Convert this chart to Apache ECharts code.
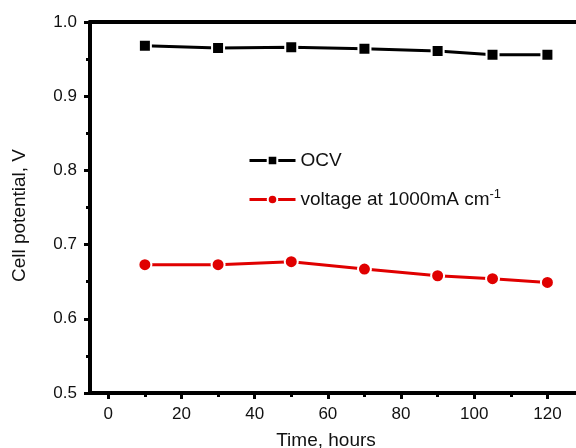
<!DOCTYPE html>
<html>
<head>
<meta charset="utf-8">
<script src="https://cdn.jsdelivr.net/npm/echarts@6/dist/echarts.min.js"></script>
<style>
  html, body { margin: 0; padding: 0; background: #fff; }
  #chart { width: 576px; height: 448px; }
</style>
</head>
<body>
<div id="chart"></div>
<script>
// hours
var times = [10, 30, 50, 70, 90, 105, 120];
var ocv = [0.968, 0.965, 0.966, 0.964, 0.961, 0.956, 0.956];
var voltage1000 = [0.673, 0.673, 0.677, 0.667, 0.658, 0.654, 0.649];

var xMajor = [0, 20, 40, 60, 80, 100, 120];
var xMinor = [10, 30, 50, 70, 90, 110];
var yMajor = [0.5, 0.6, 0.7, 0.8, 0.9, 1.0];
var yMinor = [0.55, 0.65, 0.75, 0.85, 0.95];

var chart = echarts.init(document.getElementById("chart"));
var font = "Liberation Sans";

function pairs(xs, ys) {
  return xs.map(function (x, i) { return [x, ys[i]]; });
}

var option = {
  animation: false,
  textStyle: { fontFamily: font },
  grid: { left: 90, right: -8, top: 22, bottom: 55, outerBoundsMode: "none", containLabel: false },
  legend: {
    orient: "vertical",
    left: 243,
    top: 146,
    itemWidth: 46,
    itemHeight: 12,
    itemGap: 18,
    lineStyle: { width: 3 },
    textStyle: {
      fontFamily: font,
      fontSize: 19,
      color: "#111",
      rich: { sup: { fontSize: 13, verticalAlign: "top", padding: [0, 0, 10, 0], fontFamily: font, color: "#111" } }
    },
    formatter: function (name) {
      if (name === "OCV") return name;
      return "voltage at 1000mA cm{sup|-1}";
    },
    data: ["OCV", "voltage at 1000mA cm-1"]
  },
  xAxis: [
    {
      type: "value",
      min: -5,
      max: 130,
      name: "Time, hours",
      nameLocation: "middle",
      nameGap: 38,
      nameTextStyle: { fontFamily: font, fontSize: 19, color: "#111", padding: [0, 22, 0, 0] },
      axisLine: { onZero: false, lineStyle: { color: "#000", width: 4 } },
      axisTick: { show: true, length: 6, lineStyle: { width: 3, color: "#000" }, customValues: xMajor },
      axisLabel: { fontFamily: font, fontSize: 17, color: "#111", margin: 13, customValues: xMajor },
      splitLine: { show: false }
    },
    {
      type: "value",
      min: -5,
      max: 130,
      position: "bottom",
      axisLine: { show: false, onZero: false },
      axisTick: { show: true, length: 4, lineStyle: { width: 3, color: "#000" }, customValues: xMinor },
      axisLabel: { show: false },
      splitLine: { show: false }
    },
    {
      type: "value",
      min: -5,
      max: 130,
      position: "top",
      axisLine: { onZero: false, lineStyle: { color: "#000", width: 4 } },
      axisTick: { show: false },
      axisLabel: { show: false },
      splitLine: { show: false }
    }
  ],
  yAxis: [
    {
      type: "value",
      min: 0.5,
      max: 1.0,
      name: "Cell potential, V",
      nameLocation: "middle",
      nameGap: 61,
      nameTextStyle: { fontFamily: font, fontSize: 19, color: "#111", padding: [0, 16, 0, 0] },
      axisLine: { show: true, onZero: false, lineStyle: { color: "#000", width: 4 } },
      axisTick: { show: true, length: 6, lineStyle: { width: 3, color: "#000" }, customValues: yMajor },
      axisLabel: {
        fontFamily: font, fontSize: 17, color: "#111", margin: 13, customValues: yMajor,
        formatter: function (v) { return v.toFixed(1); }
      },
      splitLine: { show: false }
    },
    {
      type: "value",
      min: 0.5,
      max: 1.0,
      position: "left",
      axisLine: { show: false, onZero: false },
      axisTick: { show: true, length: 4, lineStyle: { width: 3, color: "#000" }, customValues: yMinor },
      axisLabel: { show: false },
      splitLine: { show: false }
    }
  ],
  series: [
    {
      name: "OCV",
      type: "line",
      data: pairs(times, ocv),
      symbol: "rect",
      symbolSize: 12,
      lineStyle: { color: "#000", width: 3 },
      itemStyle: { color: "#000", borderColor: "#fff", borderWidth: 2 }
    },
    {
      name: "voltage at 1000mA cm-1",
      type: "line",
      data: pairs(times, voltage1000),
      symbol: "circle",
      symbolSize: 13,
      lineStyle: { color: "#e00000", width: 3 },
      itemStyle: { color: "#e00000", borderColor: "#fff", borderWidth: 2 }
    }
  ]
};

chart.setOption(option);
</script>
</body>
</html>
